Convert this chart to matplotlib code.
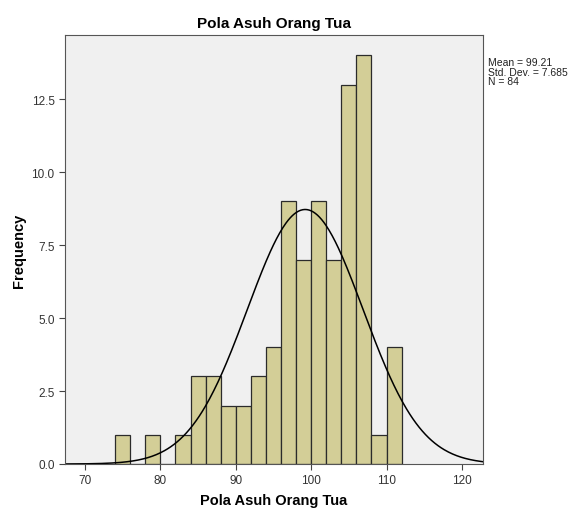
import numpy as np
import matplotlib
matplotlib.use("Agg")
import matplotlib.pyplot as plt

# ── data ─────────────────────────────────────────────────────────────────────
bin_left = [74, 76, 78, 80, 82, 84, 86, 88, 90, 92, 94, 96, 98, 100, 102, 104, 106, 108, 110]
counts   = [1,  0,  1,  0,  1,  3,  3,  2,  2,  3,  4,  9,  7,  9,   7,   13,  14,  1,   4]
BIN_W    = 2
MEAN, SD, N = 99.21, 7.685, 84

plt.rcParams["font.family"] = ["Liberation Sans", "DejaVu Sans"]

fig = plt.figure(figsize=(5.77, 5.10), dpi=100)
ax = fig.add_axes([65/577, 1 - 465/510, (483-65)/577, (465-36)/510])
ax.set_facecolor("#f0f0f0")

ax.bar(bin_left, counts, width=BIN_W, align="edge",
       color="#d3ce97", edgecolor="#2b2b2b", linewidth=0.9)

x = np.linspace(67.35, 122.8, 400)
y = N * BIN_W * np.exp(-0.5 * ((x - MEAN) / SD) ** 2) / (SD * np.sqrt(2 * np.pi))
ax.plot(x, y, color="black", lw=1.1)

ax.set_xlim(67.35, 122.8)
ax.set_ylim(0, 14.7)
ax.set_xticks([70, 80, 90, 100, 110, 120])
ax.set_yticks([0, 2.5, 5, 7.5, 10, 12.5])
ax.set_yticklabels(["0.0", "2.5", "5.0", "7.5", "10.0", "12.5"])
ax.tick_params(labelsize=8.5, length=4, color="#444444", labelcolor="#333333")
for s in ax.spines.values():
    s.set_color("#555555")

ax.set_title("Pola Asuh Orang Tua", fontsize=11, fontweight="bold", pad=6)
ax.set_xlabel("Pola Asuh Orang Tua", fontsize=10.5, fontweight="bold", labelpad=5)
ax.set_ylabel("Frequency", fontsize=10.5, fontweight="bold", labelpad=4)

fig.text(488/577, 1 - 58/510, f"Mean = {MEAN}\nStd. Dev. = {SD}\nN = {N}",
         fontsize=7.5, va="top", ha="left", linespacing=0.95, color="#222222")

fig.savefig("out.png", dpi=100)
